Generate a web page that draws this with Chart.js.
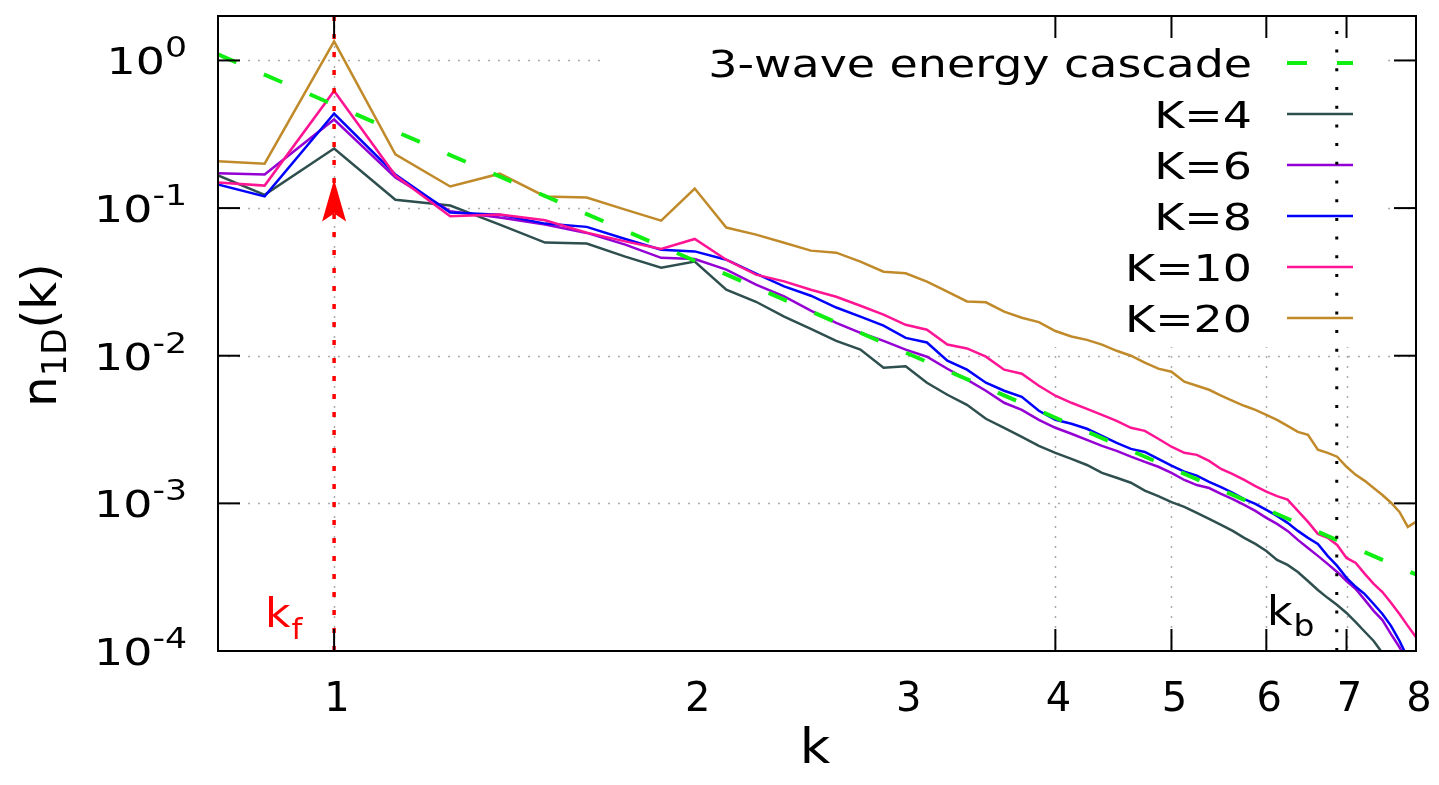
<!DOCTYPE html>
<html>
<head>
<meta charset="utf-8">
<script src="https://cdn.jsdelivr.net/npm/chart.js@4.4.1/dist/chart.umd.min.js"></script>
<style>
  html, body { margin: 0; background: #fff; overflow: hidden; }
  canvas { display: block; }
</style>
</head>
<body>
<canvas id="chart" width="1439" height="785"></canvas>
<script>
// 1D wave-action spectra n_1D(k) for several K, log-log, with the 3-wave cascade slope.
const ks = [
  0.75, 0.875, 1, 1.125, 1.25, 1.375, 1.5, 1.625, 1.75, 1.875,
  2, 2.125, 2.25, 2.375, 2.5, 2.625, 2.75, 2.875,
  3, 3.125, 3.25, 3.375, 3.5, 3.625, 3.75, 3.875,
  4, 4.125, 4.25, 4.375, 4.5, 4.625, 4.75, 4.875,
  5, 5.125, 5.25, 5.375, 5.5, 5.625, 5.75, 5.875,
  6, 6.125, 6.25, 6.375, 6.5, 6.625, 6.75, 6.875,
  7, 7.125, 7.25, 7.375, 7.5, 7.625, 7.75, 7.875,
  8,
];

const nK4 = [
  0.207, 0.123, 0.253, 0.114, 0.104, 0.0773, 0.0584, 0.0575, 0.0469, 0.0395,
  0.0434, 0.0280, 0.0232, 0.0184, 0.0152, 0.0126, 0.0110, 0.00829,
  0.00849, 0.00656, 0.00544, 0.00465, 0.00374, 0.00325, 0.00282, 0.00245,
  0.00220, 0.00200, 0.00182, 0.00161, 0.00149, 0.00138, 0.00122, 0.00112,
  0.00102, 0.000947, 0.000862, 0.000785, 0.000715, 0.000651, 0.000584, 0.000531,
  0.000476, 0.000414, 0.000383, 0.000343, 0.000298, 0.000259, 0.000229, 0.000205,
  0.000181, 0.000157, 0.000135, 0.000117, 0.0000969, 0.0000767, null, null,
  null,
];
const nK6 = [
  0.174, 0.169, 0.398, 0.161, 0.0951, 0.0862, 0.0773, 0.0679, 0.0566, 0.0460,
  0.0452, 0.0383, 0.0303, 0.0252, 0.0202, 0.0167, 0.0143, 0.0126,
  0.0110, 0.00985, 0.00816, 0.00688, 0.00579, 0.00480, 0.00430, 0.00368,
  0.00325, 0.00296, 0.00269, 0.00245, 0.00227, 0.00207, 0.00191, 0.00177,
  0.00161, 0.00144, 0.00133, 0.00127, 0.00116, 0.00107, 0.000977, 0.000890,
  0.000797, 0.000726, 0.000651, 0.000566, 0.000499, 0.000441, 0.000389, 0.000343,
  0.000298, 0.000263, 0.000222, 0.000187, 0.000162, 0.000130, 0.000106, 0.0000842,
  null,
];
const nK8 = [
  0.165, 0.120, 0.437, 0.169, 0.0932, 0.0903, 0.0785, 0.0746, 0.0618, 0.0523,
  0.0509, 0.0447, 0.0360, 0.0295, 0.0255, 0.0212, 0.0184, 0.0160,
  0.0132, 0.0123, 0.00925, 0.00804, 0.00656, 0.00579, 0.00527, 0.00424,
  0.00368, 0.00346, 0.00320, 0.00287, 0.00257, 0.00234, 0.00223, 0.00200,
  0.00180, 0.00164, 0.00154, 0.00140, 0.00129, 0.00118, 0.00107, 0.000992,
  0.000903, 0.000823, 0.000738, 0.000651, 0.000584, 0.000531, 0.000441, 0.000377,
  0.000313, 0.000272, 0.000243, 0.000208, 0.000178, 0.000148, 0.000117, 0.0000896,
  null,
];
const nK10 = [
  0.154, 0.142, 0.621, 0.166, 0.0880, 0.0903, 0.0827, 0.0682, 0.0595, 0.0529,
  0.0618, 0.0447, 0.0354, 0.0319, 0.0280, 0.0251, 0.0218, 0.0190,
  0.0162, 0.0150, 0.0119, 0.0112, 0.00985, 0.00804, 0.00755, 0.00626,
  0.00536, 0.00480, 0.00437, 0.00398, 0.00362, 0.00325, 0.00310, 0.00274,
  0.00242, 0.00220, 0.00213, 0.00194, 0.00171, 0.00158, 0.00144, 0.00131,
  0.00120, 0.00112, 0.00106, 0.000890, 0.000749, 0.000621, 0.000584, 0.000523,
  0.000427, 0.000395, 0.000333, 0.000285, 0.000251, 0.000212, 0.000178, 0.000148,
  0.000124,
];
const nK20 = [
  0.213, 0.200, 1.345, 0.231, 0.140, 0.171, 0.120, 0.118, 0.0977, 0.0822,
  0.1356, 0.0738, 0.0661, 0.0583, 0.0515, 0.0499, 0.0434, 0.0371,
  0.0362, 0.0318, 0.0272, 0.0233, 0.0230, 0.0199, 0.0181, 0.0169,
  0.0147, 0.0135, 0.0128, 0.0119, 0.0108, 0.0100, 0.00897, 0.00817,
  0.00779, 0.00667, 0.00626, 0.00588, 0.00536, 0.00495, 0.00458, 0.00430,
  0.00398, 0.00368, 0.00335, 0.00305, 0.00291, 0.00231, 0.00220, 0.00207,
  0.00177, 0.00156, 0.00142, 0.00127, 0.00114, 0.00101, 0.000875, 0.000693,
  0.000750,
];

// straight power law on the log-log axes
const cascadeK = [0.8, 1, 2, 4, 8];
const cascadeN = [1.1, 0.50, 0.044, 0.0038, 0.00033];

const K_F = 1;        // forcing scale
const K_B = 6.87;     // bottleneck scale
const ARROW_TIP = 0.156;

const X_MIN = 0.8, X_MAX = 8;
const Y_MIN = 1e-4, Y_MAX = 2;
const xLabels = [1, 2, 3, 4, 5, 6, 7, 8];
const xTickMarks = [1, 4, 5, 6, 7];
const yDecades = [1, 0.1, 0.01, 0.001, 0.0001];
const yExponents = ["0", "-1", "-2", "-3", "-4"];

const series = [
  { label: "K=4", data: nK4, color: "#2f4f4f" },
  { label: "K=6", data: nK6, color: "#9400d3" },
  { label: "K=8", data: nK8, color: "#0000ff" },
  { label: "K=10", data: nK10, color: "#ff1493" },
  { label: "K=20", data: nK20, color: "#c08a2a" },
];
const CASCADE_COLOR = "#11ee11";
const CASCADE_DASH = [20, 30];
const FONT = '"DejaVu Sans", sans-serif';
const SX = 1.24; // the reference text is wide

function textWidth(ctx, s, size, sx = SX) {
  ctx.save();
  ctx.font = `${size}px ${FONT}`;
  const w = ctx.measureText(s).width * sx;
  ctx.restore();
  return w;
}

function drawText(ctx, s, x, y, size, align = "left", color = "#000", sx = SX) {
  const w = textWidth(ctx, s, size, sx);
  const left = align === "right" ? x - w : align === "center" ? x - w / 2 : x;
  ctx.save();
  ctx.font = `${size}px ${FONT}`;
  ctx.translate(left, y);
  ctx.scale(sx, 1);
  ctx.fillStyle = color;
  ctx.textAlign = "left";
  ctx.textBaseline = "alphabetic";
  ctx.fillText(s, 0, 0);
  ctx.restore();
  return w;
}

function line(ctx, x1, y1, x2, y2) {
  ctx.beginPath();
  ctx.moveTo(x1, y1);
  ctx.lineTo(x2, y2);
  ctx.stroke();
}

const overlay = {
  id: "overlay",
  beforeDatasetsDraw(chart) {
    const { ctx, chartArea: a, scales: { x, y } } = chart;
    ctx.save();
    // dotted grid
    ctx.strokeStyle = "#aaaaaa";
    ctx.lineWidth = 1.5;
    ctx.setLineDash([2, 8]);
    for (const v of yDecades.slice(0, 4)) {
      const py = Math.round(y.getPixelForValue(v)) + 0.5;
      line(ctx, a.left, py, a.right, py);
    }
    for (const v of xTickMarks) {
      const px = Math.round(x.getPixelForValue(v)) + 0.5;
      line(ctx, px, a.top, px, a.bottom);
    }
    ctx.setLineDash([]);

    // opaque key box, then the key itself
    ctx.fillStyle = "#fff";
    ctx.fillRect(606, a.top, 1388 - 606, 347 - a.top);
    const rows = [{ label: "3-wave energy cascade", color: CASCADE_COLOR, dash: CASCADE_DASH }]
      .concat(series.map((s) => ({ label: s.label, color: s.color, dash: [] })));
    rows.forEach((r, i) => {
      const ry = 63 + i * 51;
      drawText(ctx, r.label, 1252, ry + 13.5, 37, "right");
      ctx.strokeStyle = r.color;
      ctx.lineWidth = r.dash.length ? 4 : 2.5;
      ctx.setLineDash(r.dash);
      line(ctx, 1287, ry, 1353, ry);
    });
    ctx.restore();
  },
  afterDatasetsDraw(chart) {
    const { ctx, chartArea: a, scales: { x, y } } = chart;
    ctx.save();

    // forcing arrow head
    const fx = x.getPixelForValue(K_F);
    const tip = y.getPixelForValue(ARROW_TIP);
    ctx.fillStyle = "#ff0000";
    ctx.beginPath();
    ctx.moveTo(fx, tip);
    ctx.lineTo(fx - 12, tip + 42);
    ctx.lineTo(fx, tip + 34);
    ctx.lineTo(fx + 12, tip + 42);
    ctx.closePath();
    ctx.fill();

    // frame and inward tics
    ctx.strokeStyle = "#000";
    ctx.lineWidth = 2;
    ctx.strokeRect(a.left, a.top, a.right - a.left, a.bottom - a.top);
    const T = 22;
    for (const v of yDecades.slice(0, 4)) {
      const py = y.getPixelForValue(v);
      line(ctx, a.left, py, a.left + T, py);
      line(ctx, a.right - T, py, a.right, py);
    }
    for (const v of xTickMarks) {
      const px = x.getPixelForValue(v);
      line(ctx, px, a.bottom, px, a.bottom - T);
      line(ctx, px, a.top, px, a.top + T);
    }

    // y tick labels 10^n
    yDecades.forEach((v, i) => {
      const py = y.getPixelForValue(v);
      const supW = textWidth(ctx, yExponents[i], 28);
      const baseW = textWidth(ctx, "10", 37);
      drawText(ctx, "10", 187 - supW - baseW, py + 14, 37);
      drawText(ctx, yExponents[i], 187 - supW, py - 3, 28);
    });

    // x tick labels (taller, narrower digits)
    for (const v of xLabels) {
      drawText(ctx, String(v), x.getPixelForValue(v) + 3, 711, 40, "center", "#000", 1);
    }

    // axis titles
    drawText(ctx, "k", 815, 763, 48, "center", "#000", 1.1);
    ctx.save();
    ctx.translate(56, 335);
    ctx.rotate(-Math.PI / 2);
    const wn = textWidth(ctx, "n", 48, 1);
    const ws = textWidth(ctx, "1D", 34, 1);
    const wk = textWidth(ctx, "(k)", 48, 1);
    let sx0 = -(wn + ws + wk) / 2;
    sx0 += drawText(ctx, "n", sx0, 0, 48, "left", "#000", 1);
    sx0 += drawText(ctx, "1D", sx0, 10, 34, "left", "#000", 1);
    drawText(ctx, "(k)", sx0, 0, 48, "left", "#000", 1);
    ctx.restore();

    // k_f and k_b labels
    let w = drawText(ctx, "k", 265, 627, 40, "left", "#ff0000", 1.1);
    drawText(ctx, "f", 265 + w + 1, 639, 28, "left", "#ff0000", 1.1);
    w = drawText(ctx, "k", 1267, 625, 40, "left", "#000", 1.1);
    drawText(ctx, "b", 1267 + w + 1, 636, 30, "left", "#000", 1.1);

    ctx.restore();
  },
};

const datasets = [
  {
    label: "k_f",
    data: [{ x: K_F, y: Y_MIN }, { x: K_F, y: Y_MAX }],
    borderColor: "#ff0000", borderWidth: 3.5, borderDash: [5, 13], order: 0,
  },
  {
    label: "k_b",
    data: [{ x: K_B, y: Y_MIN }, { x: K_B, y: Y_MAX }],
    borderColor: "#000", borderWidth: 3, borderDash: [3, 15.7], order: 0,
  },
  {
    label: "3-wave energy cascade",
    data: cascadeK.map((k, i) => ({ x: k, y: cascadeN[i] })),
    borderColor: CASCADE_COLOR, borderWidth: 4, borderDash: CASCADE_DASH, order: 1,
  },
  ...series.map((s, i) => ({
    label: s.label,
    data: ks.map((k, j) => ({ x: k, y: s.data[j] })),
    borderColor: s.color, borderWidth: 2.5, order: 6 - i,
  })),
];

new Chart(document.getElementById("chart"), {
  type: "line",
  data: { datasets },
  options: {
    responsive: false,
    animation: false,
    layout: { padding: { left: 218, right: 23, top: 16, bottom: 134 } },
    plugins: { legend: { display: false }, tooltip: { enabled: false } },
    elements: { point: { radius: 0 }, line: { tension: 0, fill: false } },
    datasets: { line: { clip: 0, spanGaps: false } },
    scales: {
      x: {
        type: "logarithmic", min: X_MIN, max: X_MAX, bounds: "data",
        ticks: { display: false }, grid: { display: false, drawTicks: false }, border: { display: false },
      },
      y: {
        type: "logarithmic", min: Y_MIN, max: Y_MAX, bounds: "data",
        ticks: { display: false }, grid: { display: false, drawTicks: false }, border: { display: false },
      },
    },
  },
  plugins: [overlay],
});
</script>
</body>
</html>
